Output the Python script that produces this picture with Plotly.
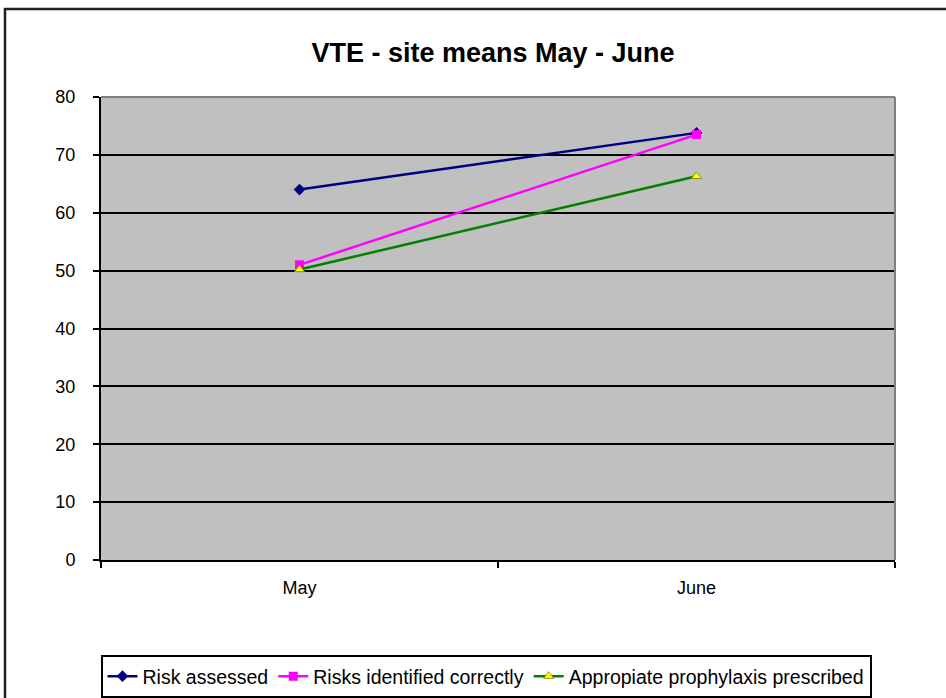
import plotly.graph_objects as go

months = ["May", "June"]
risk_assessed = [64, 73.8]
risks_identified = [51, 73.5]
appropriate_prophylaxis = [50.2, 66.3]
y_ticks = [0, 10, 20, 30, 40, 50, 60, 70, 80]

W, H = 946, 698
L, R, T, B = 101, 895, 97, 560
pw, ph = R - L, B - T

def px_x(p):
    return (p - L) / pw

def px_y(p):
    return (B - p) / ph

FONT = "Liberation Sans, Arial, sans-serif"

fig = go.Figure()
fig.add_trace(go.Scatter(x=months, y=risk_assessed, name="Risk assessed", mode="lines+markers",
                         line=dict(color="#000080", width=2.5),
                         marker=dict(symbol="diamond", size=9, color="#000080")))
fig.add_trace(go.Scatter(x=months, y=risks_identified, name="Risks identified correctly", mode="lines+markers",
                         line=dict(color="#FF00FF", width=2.5),
                         marker=dict(symbol="square", size=9, color="#FF00FF")))
fig.add_trace(go.Scatter(x=months, y=appropriate_prophylaxis, name="Appropiate prophylaxis prescribed",
                         mode="lines+markers",
                         line=dict(color="#008000", width=2.5),
                         marker=dict(symbol="triangle-up", size=9, color="#FFFF00",
                                     line=dict(color="#808000", width=0.8))))

fig.update_layout(
    width=W, height=H,
    margin=dict(l=L, r=W - R, t=T, b=H - B, autoexpand=False),
    paper_bgcolor="white",
    plot_bgcolor="#C0C0C0",
    font=dict(family=FONT, color="black", size=18),
    title=dict(text="<b>VTE - site means May - June</b>", x=px_x(493), xanchor="center",
               xref="paper", y=1 - 53 / H, yanchor="middle",
               font=dict(size=27, color="black", family=FONT)),
    showlegend=True,
    legend=dict(orientation="h", x=px_x(486), xanchor="center", y=px_y(655), yanchor="top",
                bordercolor="black", borderwidth=2, bgcolor="white",
                font=dict(size=19.5), itemwidth=30, tracegroupgap=0),
    xaxis=dict(type="category", range=[-0.5, 1.5], tickson="boundaries",
               showgrid=False, showline=True, linecolor="black", linewidth=2,
               ticks="outside", ticklen=6, tickcolor="black", tickwidth=2,
               tickfont=dict(size=18), zeroline=False, ticklabelstandoff=10),
    yaxis=dict(range=[0, 80], tickvals=y_ticks, ticktext=[str(v) for v in y_ticks],
               showgrid=True, gridcolor="black", gridwidth=2,
               showline=True, linecolor="black", linewidth=2,
               ticks="outside", ticklen=6, tickcolor="black", tickwidth=2,
               tickfont=dict(size=18), zeroline=False, ticklabelstandoff=14),
    shapes=[
        dict(type="line", xref="paper", yref="paper", x0=0, x1=1, y0=1, y1=1,
             line=dict(color="#808080", width=2), layer="above"),
        dict(type="line", xref="paper", yref="paper", x0=1, x1=1, y0=0, y1=1,
             line=dict(color="#808080", width=2), layer="above"),
        dict(type="rect", xref="paper", yref="paper", x0=px_x(5), x1=px_x(970),
             y0=px_y(730), y1=px_y(9), line=dict(color="#202020", width=2.5),
             fillcolor="rgba(0,0,0,0)", layer="above"),
    ],
)

fig.write_html("out.html", config={"displayModeBar": False},
               post_script="document.body.style.margin='0';document.body.style.overflow='hidden';")
